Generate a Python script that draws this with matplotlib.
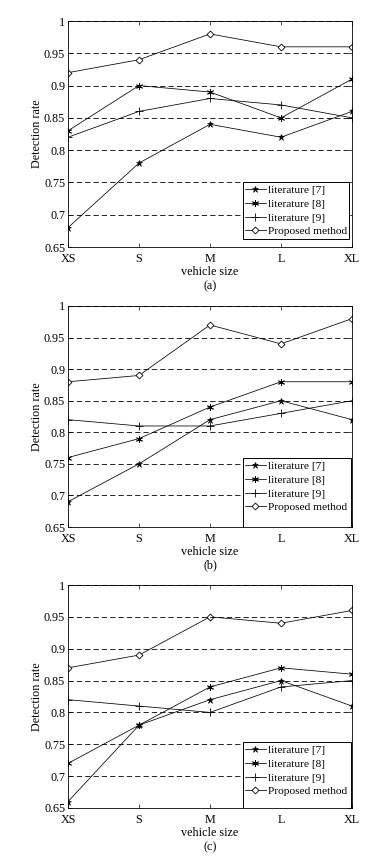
import matplotlib
matplotlib.use("Agg")
import matplotlib.pyplot as plt
from matplotlib.patches import Rectangle

sizes = ['XS', 'S', 'M', 'L', 'XL']
yticks = [0.65, 0.7, 0.75, 0.8, 0.85, 0.9, 0.95, 1.0]
ytick_labels = ['0.65', '0.7', '0.75', '0.8', '0.85', '0.9', '0.95', '1']
series_names = ['literature [7]', 'literature [8]', 'literature [9]', 'Proposed method']

a_lit7 = [0.68, 0.78, 0.84, 0.82, 0.86]
a_lit8 = [0.83, 0.90, 0.89, 0.85, 0.91]
a_lit9 = [0.82, 0.86, 0.88, 0.87, 0.85]
a_prop = [0.92, 0.94, 0.98, 0.96, 0.96]

b_lit7 = [0.69, 0.75, 0.82, 0.85, 0.82]
b_lit8 = [0.76, 0.79, 0.84, 0.88, 0.88]
b_lit9 = [0.82, 0.81, 0.81, 0.83, 0.85]
b_prop = [0.88, 0.89, 0.97, 0.94, 0.98]

c_lit7 = [0.66, 0.78, 0.82, 0.85, 0.81]
c_lit8 = [0.72, 0.78, 0.84, 0.87, 0.86]
c_lit9 = [0.82, 0.81, 0.80, 0.84, 0.85]
c_prop = [0.87, 0.89, 0.95, 0.94, 0.96]

panels = [('(a)', [a_lit7, a_lit8, a_lit9, a_prop]),
          ('(b)', [b_lit7, b_lit8, b_lit9, b_prop]),
          ('(c)', [c_lit7, c_lit8, c_lit9, c_prop])]

plt.rcParams['font.family'] = ['Liberation Serif', 'DejaVu Serif']
plt.rcParams['lines.scale_dashes'] = False
FS = 8.7
LFS = 8.2

W, H = 379, 859
fig = plt.figure(figsize=(W / 100, H / 100), dpi=100)

# axes pixel boxes: (left, top, right, bottom)
boxes = [(68, 21, 352, 247), (68, 306, 352, 527), (68, 585, 352, 808)]
label_y = [286, 565, 847]
legend_boxes = [(243, 182, 349, 239), (243, 458, 351, 527), (243, 742, 351, 808)]

styles = [dict(marker='*', ms=5, mfc='k', mec='k', mew=0.4),
          dict(marker=(6, 2, 0), ms=5, mec='k', mew=0.6),
          dict(marker='+', ms=6, mec='k', mew=0.6),
          dict(marker='D', ms=3.5, mfc='white', mec='k', mew=0.6)]

x = list(range(len(sizes)))
for (lab, data), (l, t, r, b), ly, (ll, lt, lr, lb) in zip(panels, boxes, label_y, legend_boxes):
    ax = fig.add_axes([l / W, 1 - b / H, (r - l) / W, (b - t) / H])
    for vals, name, st in zip(data, series_names, styles):
        ax.plot(x, vals, color='k', lw=0.55, label=name, **st)
    ax.set_xlim(0, len(sizes) - 1)
    ax.set_ylim(0.65, 1.0)
    ax.set_xticks(x)
    ax.set_xticklabels(sizes, fontsize=FS)
    ax.set_yticks(yticks)
    ax.set_yticklabels(ytick_labels, fontsize=FS)
    ax.tick_params(direction='in', length=3, width=0.5, top=True, right=True)
    ax.tick_params(axis='x', pad=4)
    ax.tick_params(axis='y', pad=2)
    ax.yaxis.grid(True, color='k', linestyle=(0, (3.8, 2.2)), linewidth=0.6)
    ax.set_axisbelow(False)
    for sp in ax.spines.values():
        sp.set_linewidth(0.6)
    ax.set_xlabel('vehicle size', fontsize=FS, labelpad=1)
    ax.set_ylabel('Detection rate', fontsize=FS, labelpad=1)
    fig.text(210 / W, 1 - ly / H, lab, fontsize=FS, ha='center', va='center')

    # legend frame
    axw, axh = r - l, b - t
    rect = Rectangle(((ll - l) / axw, (b - lb) / axh), (lr - ll) / axw, (lb - lt) / axh,
                     transform=ax.transAxes, facecolor='white', edgecolor='k',
                     linewidth=0.7, zorder=5)
    ax.add_patch(rect)
    leg = ax.legend(loc='upper left',
                    bbox_to_anchor=((ll + 1 - l) / axw, (b - lt - 2) / axh),
                    frameon=False, fontsize=LFS, handlelength=1.8,
                    handletextpad=0.2, labelspacing=0.33, borderpad=0.1,
                    borderaxespad=0)
    leg.set_zorder(6)

fig.savefig('out.png', dpi=100)
